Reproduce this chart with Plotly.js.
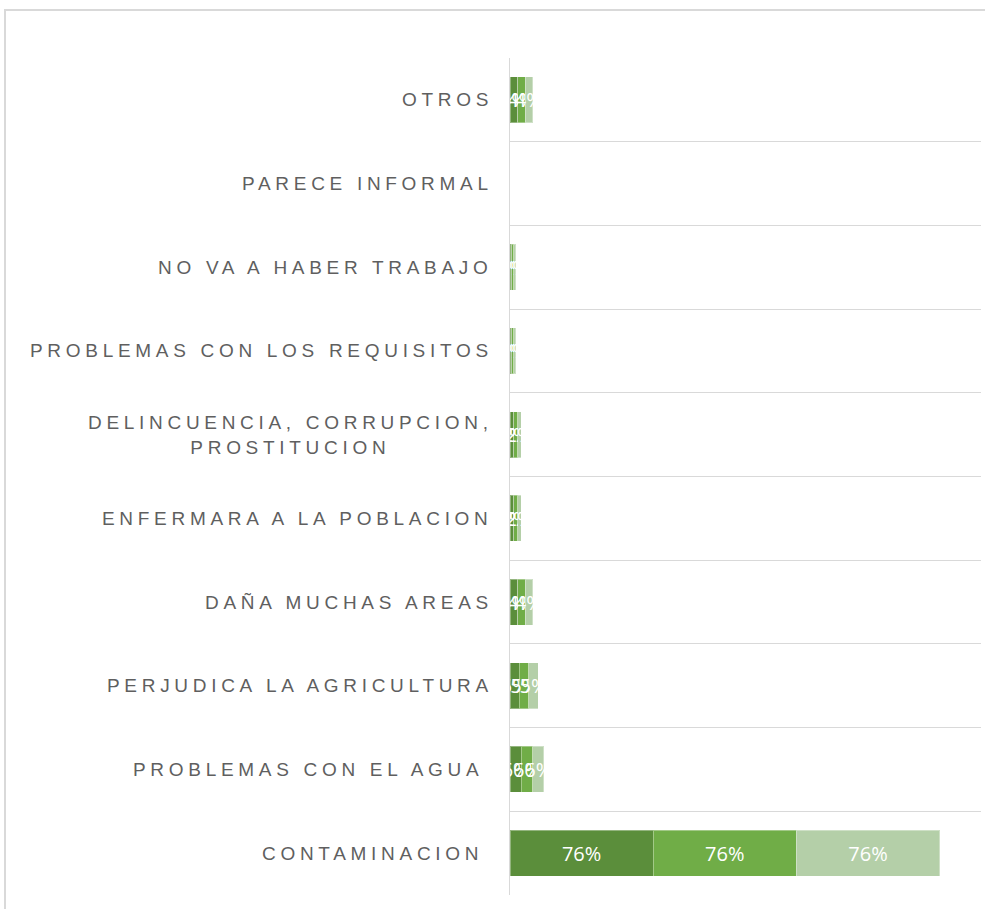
<!DOCTYPE html>
<html>
<head>
<meta charset="utf-8">
<script src="https://cdn.plot.ly/plotly-3.0.1.min.js"></script>
<style>
  html, body { margin: 0; padding: 0; background: #fff; }
  #wrap { position: relative; width: 985px; height: 909px; overflow: hidden; }
  #frame { position: absolute; left: 4px; top: 9px; width: 990px; height: 910px;
           border-top: 2px solid #d9d9d9; border-left: 2px solid #d9d9d9; box-sizing: border-box; pointer-events: none; }
  #chart { position: absolute; left: 0; top: 0; width: 985px; height: 909px; }
  .annotation-text { letter-spacing: 4.7px; }
</style>
</head>
<body>
<div id="wrap">
  <div id="chart"></div>
  <div id="frame"></div>
</div>
<script>
// Categories, bottom to top
const categories = [
  "CONTAMINACION\u00A0",
  "PROBLEMAS CON EL AGUA\u00A0",
  "PERJUDICA LA AGRICULTURA",
  "DAÑA MUCHAS AREAS",
  "ENFERMARA A LA POBLACION",
  "DELINCUENCIA, CORRUPCION,<br>PROSTITUCION",
  "PROBLEMAS CON LOS REQUISITOS",
  "NO VA A HABER TRABAJO",
  "PARECE INFORMAL",
  "OTROS"
];
// Values (%) for the three stacked series
const series1 = [76, 6, 5, 4, 2, 2, 1, 1, 0, 4];
const series2 = [76, 6, 5, 4, 2, 2, 1, 1, 0, 4];
const series3 = [76, 6, 5, 4, 2, 2, 1, 1, 0, 4];
const seriesNames = ["Serie 1", "Serie 2", "Serie 3"];
const seriesColors = ["#5B8E3B", "#70AD47", "#B4CFA8"];

const allSeries = [series1, series2, series3];
const traces = allSeries.map((vals, i) => ({
  type: "bar",
  orientation: "h",
  name: seriesNames[i],
  y: categories,
  x: vals,
  text: vals.map(v => v + "%"),
  textposition: "inside",
  insidetextanchor: "middle",
  textangle: 0,
  constraintext: "none",
  cliponaxis: false,
  textfont: { family: "Open Sans, sans-serif", size: 20, color: "#ffffff" },
  marker: { color: seriesColors[i], line: { color: "rgba(255,255,255,0.35)", width: 1 } },
  hoverinfo: "skip"
}));

// Category labels as annotations (centered multi-line like the original)
const labelAnnotations = categories.map(c => ({
  xref: "paper",
  yref: "y",
  x: 0,
  y: c,
  xanchor: "right",
  yanchor: "middle",
  xshift: -15,
  align: "center",
  showarrow: false,
  text: c,
  font: { family: "Liberation Sans, Arial, sans-serif", size: 19, color: "#5f5f5f" }
}));

const layout = {
  width: 985,
  height: 909,
  barmode: "stack",
  bargap: 0.45,
  showlegend: false,
  paper_bgcolor: "#ffffff",
  plot_bgcolor: "#ffffff",
  margin: { l: 510, r: 4, t: 58, b: 14, pad: 0 },
  xaxis: {
    range: [0, 250],
    visible: false,
    showgrid: false,
    zeroline: false,
    fixedrange: true
  },
  yaxis: {
    type: "category",
    categoryorder: "array",
    categoryarray: categories,
    tickson: "boundaries",
    showgrid: true,
    gridcolor: "#d9d9d9",
    gridwidth: 1,
    showline: true,
    linecolor: "#d9d9d9",
    linewidth: 1,
    ticks: "",
    showticklabels: false,
    zeroline: false,
    fixedrange: true
  },
  annotations: labelAnnotations
};

Plotly.newPlot("chart", traces, layout, { displayModeBar: false, staticPlot: true });
</script>
</body>
</html>
